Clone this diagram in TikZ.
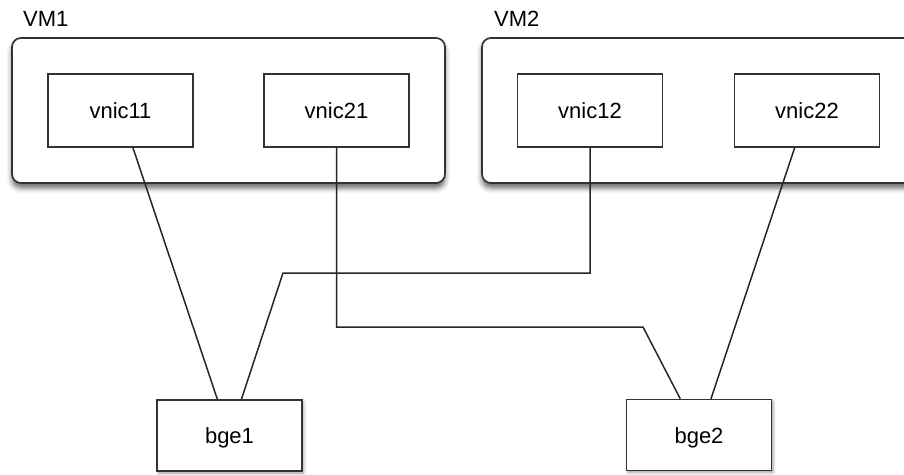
\documentclass[tikz,border=0pt]{standalone}
\usepackage{fontspec}
\setmainfont{Liberation Sans}
\usetikzlibrary{shadows.blur}

\begin{document}
\begin{tikzpicture}[x=1pt,y=-1pt,
  vmbox/.style={draw=black!80, line width=1.7pt, rounded corners=9pt, fill=white,
    blur shadow={shadow xshift=0pt, shadow yshift=-5pt, shadow blur radius=5pt, shadow opacity=60}},
  nicbox/.style={draw=black!80, line width=1.5pt, fill=white,
    minimum width=145pt, minimum height=73pt, inner sep=0pt,
    font=\fontsize{22}{25}\selectfont, text height=16pt, text depth=0pt},
  hostbox/.style={nicbox, minimum height=71pt,
    blur shadow={shadow xshift=1.5pt, shadow yshift=-2pt, shadow blur radius=3pt, shadow opacity=40}},
  vmlabel/.style={anchor=base west, inner sep=0pt, font=\fontsize{22}{25}\selectfont},
  wire/.style={draw=black!85, line width=1.5pt}
]
\useasboundingbox (0,0) rectangle (904,474);

% virtual machines
\path[vmbox] (12,38) rectangle (445,183);
\path[vmbox] (482,38) rectangle (940,183);
\node[vmlabel] (vm1) at (23,26) {VM1};
\node[vmlabel] (vm2) at (494,26) {VM2};

% virtual NICs
\node[nicbox] (vnic11) at (120.5,110.5) {vnic11};
\node[nicbox] (vnic21) at (336.5,110.5) {vnic21};
\node[nicbox] (vnic12) at (590,110.5) {vnic12};
\node[nicbox] (vnic22) at (807,110.5) {vnic22};

% physical NICs
\node[hostbox] (bge1) at (229.5,435.5) {bge1};
\node[hostbox] (bge2) at (699,435) {bge2};

% bends of the routed links
\coordinate (b21) at (643,327);
\coordinate (b12) at (283,273);

% links
\draw[wire] (vnic11) -- (bge1);
\draw[wire] (vnic22) -- (bge2);
\draw[wire] (vnic21.south) |- (b21) -- (bge2);
\draw[wire] (vnic12.south) |- (b12) -- (bge1);
\end{tikzpicture}
\end{document}
